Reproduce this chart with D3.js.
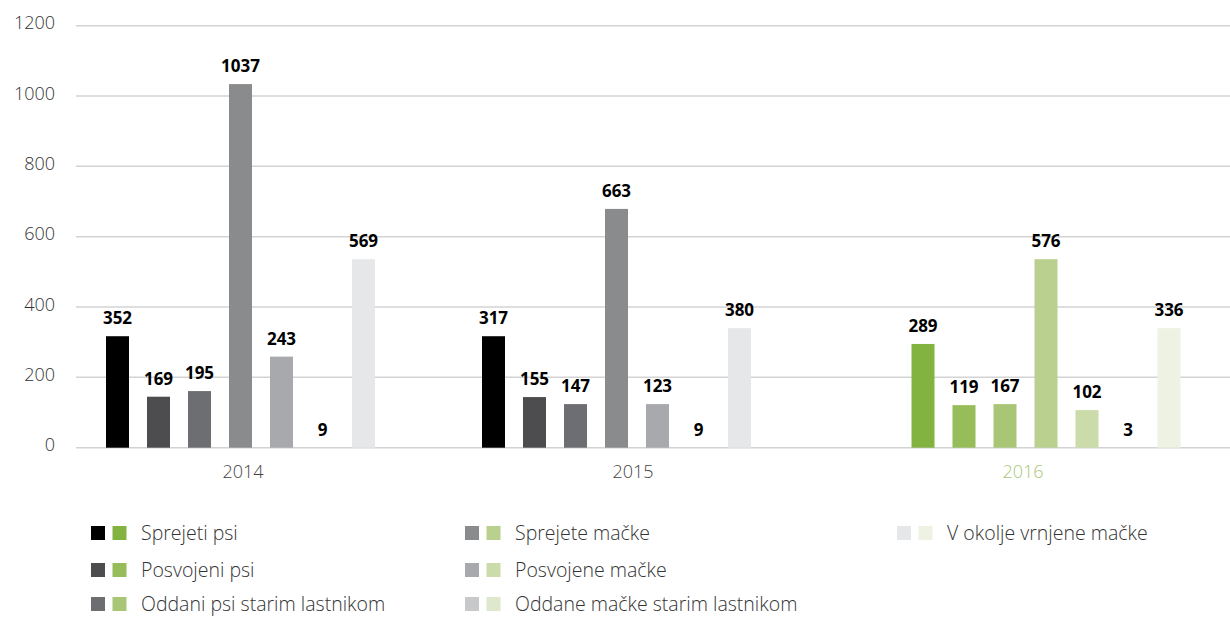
<!DOCTYPE html>
<html>
<head>
<meta charset="utf-8">
<script src="https://cdn.jsdelivr.net/npm/d3@7"></script>
<style>
  body { margin: 0; background: #fff; }
  svg { display: block; font-family: "Open Sans", sans-serif; }
</style>
</head>
<body>
<script>
const years = ["2014", "2015", "2016"];
const seriesNames = [
  "Sprejeti psi",
  "Posvojeni psi",
  "Oddani psi starim lastnikom",
  "Sprejete mačke",
  "Posvojene mačke",
  "Oddane mačke starim lastnikom",
  "V okolje vrnjene mačke"
];
// bar heights as drawn in the picture
const bars2014 = [317, 145, 161, 1034, 259, 0, 536];
const bars2015 = [317, 144, 124, 679, 124, 0, 340];
const bars2016 = [295, 121, 124, 536, 107, 0, 340];
// numbers printed above the bars
const labels2014 = [352, 169, 195, 1037, 243, 9, 569];
const labels2015 = [317, 155, 147, 663, 123, 9, 380];
const labels2016 = [289, 119, 167, 576, 102, 3, 336];
const yTicks = [0, 200, 400, 600, 800, 1000, 1200];

const grays = ["#000000", "#4d4d4f", "#6d6e71", "#8a8b8d", "#a7a9ac", "#c7c8ca", "#e6e7e8"];
const greens = ["#82b341", "#97bc5a", "#a9c677", "#b9d08f", "#cbdcaa", "#dde8cc", "#eef2e3"];

const w = 1230, h = 617;
const barsByYear = [bars2014, bars2015, bars2016];
const labelsByYear = [labels2014, labels2015, labels2016];
const groupShift = [-2.5, -16.5, 23];

const svg = d3.select("body").append("svg")
  .attr("width", w)
  .attr("height", h);

const y = d3.scaleLinear().domain([0, 1200]).range([447.7, 25.7]);
const x0 = d3.scaleBand().domain(years).range([48, 1218]);
const x1 = d3.scaleBand()
  .domain(d3.range(seriesNames.length))
  .range([-143.5, 143.5])
  .paddingInner(0.439)
  .paddingOuter(0.2195);

// grid
svg.append("g")
  .selectAll("line")
  .data(yTicks)
  .enter()
  .append("line")
  .attr("x1", 76)
  .attr("x2", w)
  .attr("y1", d => y(d))
  .attr("y2", d => y(d))
  .attr("stroke", "#d3d3d3")
  .attr("stroke-width", 1.5);

svg.append("g")
  .selectAll("text")
  .data(yTicks)
  .enter()
  .append("text")
  .attr("x", 55)
  .attr("y", d => y(d))
  .attr("dy", "0.2em")
  .attr("text-anchor", "end")
  .attr("font-size", 18)
  .attr("font-weight", 300)
  .attr("fill", "#333")
  .text(d => d);

// year labels
svg.append("g")
  .selectAll("text")
  .data(years)
  .enter()
  .append("text")
  .attr("x", d => x0(d) + x0.bandwidth() / 2)
  .attr("y", 478)
  .attr("text-anchor", "middle")
  .attr("font-size", 18)
  .attr("font-weight", 300)
  .attr("fill", (d, i) => i === 2 ? greens[2] : "#444")
  .text(d => d);

// bars
const groups = svg.selectAll("g.year")
  .data(years)
  .enter()
  .append("g")
  .attr("class", "year")
  .attr("transform", (d, i) => `translate(${x0(d) + x0.bandwidth() / 2 + groupShift[i]},0)`);

groups.selectAll("rect")
  .data((d, i) => barsByYear[i].map((v, j) => ({ v, j, yi: i })))
  .enter()
  .append("rect")
  .attr("x", d => x1(d.j))
  .attr("width", x1.bandwidth())
  .attr("y", d => y(d.v))
  .attr("height", d => y(0) - y(d.v))
  .attr("fill", d => d.yi === 2 ? greens[d.j] : grays[d.j]);

groups.selectAll("text")
  .data((d, i) => barsByYear[i].map((v, j) => ({ v, j, label: labelsByYear[i][j] })))
  .enter()
  .append("text")
  .attr("x", d => x1(d.j) + x1.bandwidth() / 2)
  .attr("y", d => y(d.v) - 12)
  .attr("text-anchor", "middle")
  .attr("font-size", 17)
  .attr("font-weight", 700)
  .attr("fill", "#000")
  .text(d => d.label);

// legend
const legendX = [91, 465, 897];
const legendY = [533, 570, 604];
const legend = svg.selectAll("g.legend")
  .data(seriesNames)
  .enter()
  .append("g")
  .attr("class", "legend")
  .attr("transform", (d, i) => `translate(${legendX[Math.floor(i / 3)]},${legendY[i % 3]})`);

legend.append("rect")
  .attr("x", 0).attr("y", -7)
  .attr("width", 14).attr("height", 14)
  .attr("fill", (d, i) => grays[i]);

legend.append("rect")
  .attr("x", 21.5).attr("y", -7)
  .attr("width", 14).attr("height", 14)
  .attr("fill", (d, i) => greens[i]);

legend.append("text")
  .attr("x", 50)
  .attr("y", 0)
  .attr("dy", "0.35em")
  .attr("font-size", 19.5)
  .attr("font-weight", 300)
  .attr("fill", "#333")
  .text(d => d);
</script>
</body>
</html>
